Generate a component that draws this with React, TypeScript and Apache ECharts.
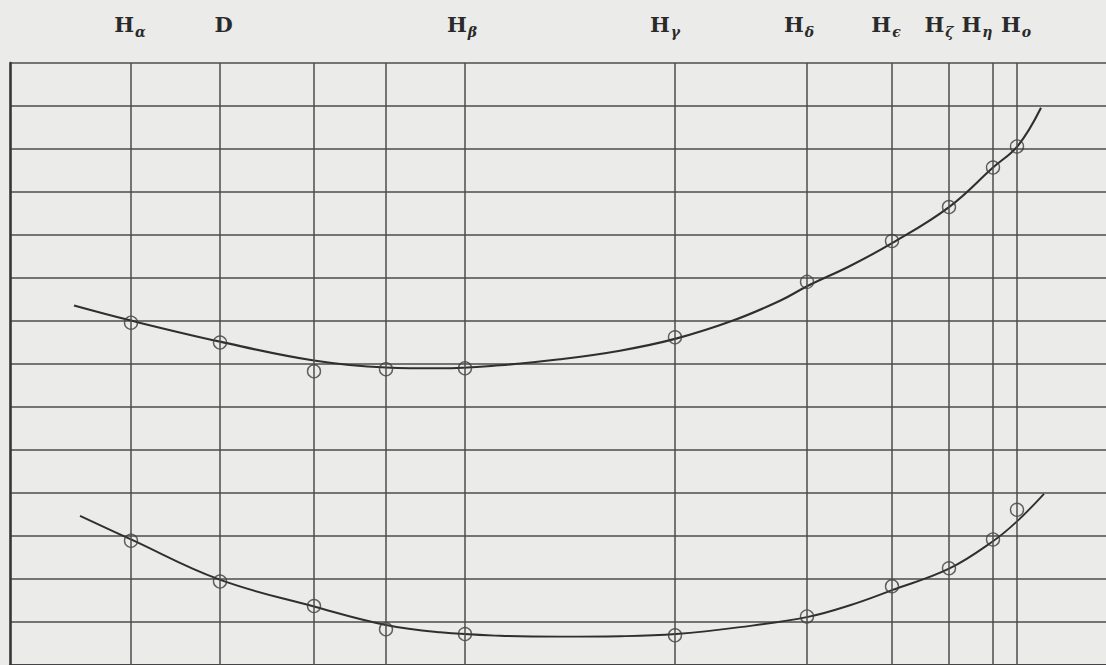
import React, { useEffect, useRef } from "react";
import * as echarts from "echarts";

// Positions of the ruled vertical lines (arbitrary scale units, left border = 0)
const linePositions = [12.1, 21.0, 30.4, 37.6, 45.5, 66.5, 79.7, 88.2, 93.9, 98.3, 100.7];

// Spectral line labels along the top and where they sit
const labelTexts = ["Hα", "D", "Hβ", "Hγ", "Hδ", "Hϵ", "Hζ", "Hη", "Ho"];
const labelPositions = [12.0, 21.4, 45.2, 65.5, 78.9, 87.6, 92.9, 96.7, 100.6];

// Measured points (circles) at each ruled line
const upperMeasured = [7.96, 7.5, 6.83, 6.88, 6.9, 7.62, 8.91, 9.86, 10.65, 11.57, 12.06];
const lowerMeasured = [2.89, 1.94, 1.37, 0.83, 0.72, 0.69, 1.13, 1.83, 2.25, 2.92, 3.61];

// Drawn (fitted) curves
const upperCurveX = [6.4, 12.1, 21.0, 30.4, 37.6, 43.0, 49.0, 55.0, 61.0, 66.6, 72.3, 77.0, 79.8, 84.0, 88.2, 93.9, 98.3, 100.8, 103.1];
const upperCurveY = [8.36, 8.01, 7.52, 7.08, 6.92, 6.9, 6.97, 7.11, 7.31, 7.59, 8.01, 8.47, 8.82, 9.28, 9.81, 10.65, 11.57, 12.08, 12.96];
const lowerCurveX = [7.0, 12.1, 20.9, 30.4, 37.6, 43.0, 49.0, 55.0, 61.0, 66.6, 73.0, 79.8, 84.0, 88.2, 93.9, 98.3, 100.7, 103.4];
const lowerCurveY = [3.47, 2.92, 1.99, 1.36, 0.93, 0.76, 0.68, 0.66, 0.67, 0.72, 0.88, 1.12, 1.39, 1.74, 2.24, 2.88, 3.34, 3.98];

const PAPER = "#ebebe9";
const INK = "#2f2f2f";
const RULE = "#4c4c4c";

export default function App() {
  const ref = useRef<HTMLDivElement>(null);

  useEffect(() => {
    if (!ref.current) return;
    const chart = echarts.init(ref.current, null, { renderer: "svg" });

    const zip = (xs: number[], ys: number[]) => xs.map((x, i) => [x, ys[i]]);

    const labelFor = (v: number) => {
      let best = -1;
      let bd = Infinity;
      labelPositions.forEach((p, i) => {
        const d = Math.abs(p - v);
        if (d < bd) {
          bd = d;
          best = i;
        }
      });
      if (best < 0 || bd > 0.01) return "";
      const t = labelTexts[best];
      if (t.length === 1) return `{h|${t}}`;
      return `{h|${t[0]}}{s|${t.slice(1)}}`;
    };

    const circleStyle = {
      color: "rgba(0,0,0,0)",
      borderColor: "#3c3c3c",
      borderWidth: 1.4,
    };

    chart.setOption({
      animation: false,
      backgroundColor: PAPER,
      grid: { left: 10, right: 0, top: 63, bottom: -3, containLabel: false },
      xAxis: {
        type: "value",
        position: "top",
        min: 0,
        max: 109.6,
        axisLine: { show: true, lineStyle: { color: "#363636", width: 2.6 } },
        axisTick: { show: false },
        splitLine: { show: false },
        axisLabel: {
          show: true,
          customValues: labelPositions,
          margin: 24,
          formatter: (v: number) => labelFor(v),
          rich: {
            h: {
              fontFamily: "DejaVu Serif",
              fontWeight: "bold",
              fontSize: 21,
              color: "#2a2a2a",
              verticalAlign: "bottom",
              padding: [0, 1, 4, 0],
            },
            s: {
              fontFamily: "DejaVu Serif",
              fontWeight: "bold",
              fontStyle: "italic",
              fontSize: 14,
              color: "#2a2a2a",
              verticalAlign: "bottom",
            },
          },
        },
      },
      yAxis: {
        type: "value",
        min: 0,
        max: 14,
        interval: 1,
        axisLine: { show: true, lineStyle: { color: "#363636", width: 2.6 } },
        axisTick: { show: false },
        axisLabel: { show: false },
        splitLine: { show: true, lineStyle: { color: RULE, width: 1.5 } },
      },
      series: [
        {
          type: "line",
          name: "rules",
          data: [],
          silent: true,
          z: 1,
          markLine: {
            silent: true,
            symbol: "none",
            label: { show: false },
            lineStyle: { color: RULE, width: 1.5, type: "solid" },
            data: linePositions.map((x) => ({ xAxis: x })),
          },
        },
        {
          type: "line",
          name: "upper curve",
          data: zip(upperCurveX, upperCurveY),
          smooth: 0.4,
          showSymbol: false,
          symbol: "none",
          lineStyle: { color: INK, width: 2.1 },
          z: 3,
        },
        {
          type: "line",
          name: "lower curve",
          data: zip(lowerCurveX, lowerCurveY),
          smooth: 0.4,
          showSymbol: false,
          symbol: "none",
          lineStyle: { color: INK, width: 1.9 },
          z: 3,
        },
        {
          type: "scatter",
          name: "upper measured",
          data: zip(linePositions, upperMeasured),
          symbol: "circle",
          symbolSize: 13,
          itemStyle: circleStyle,
          z: 4,
        },
        {
          type: "scatter",
          name: "lower measured",
          data: zip(linePositions, lowerMeasured),
          symbol: "circle",
          symbolSize: 13,
          itemStyle: circleStyle,
          z: 4,
        },
      ],
    });

    return () => chart.dispose();
  }, []);

  return (
    <div
      ref={ref}
      style={{
        position: "absolute",
        left: 0,
        top: 0,
        width: 1106,
        height: 665,
        background: PAPER,
      }}
    />
  );
}
